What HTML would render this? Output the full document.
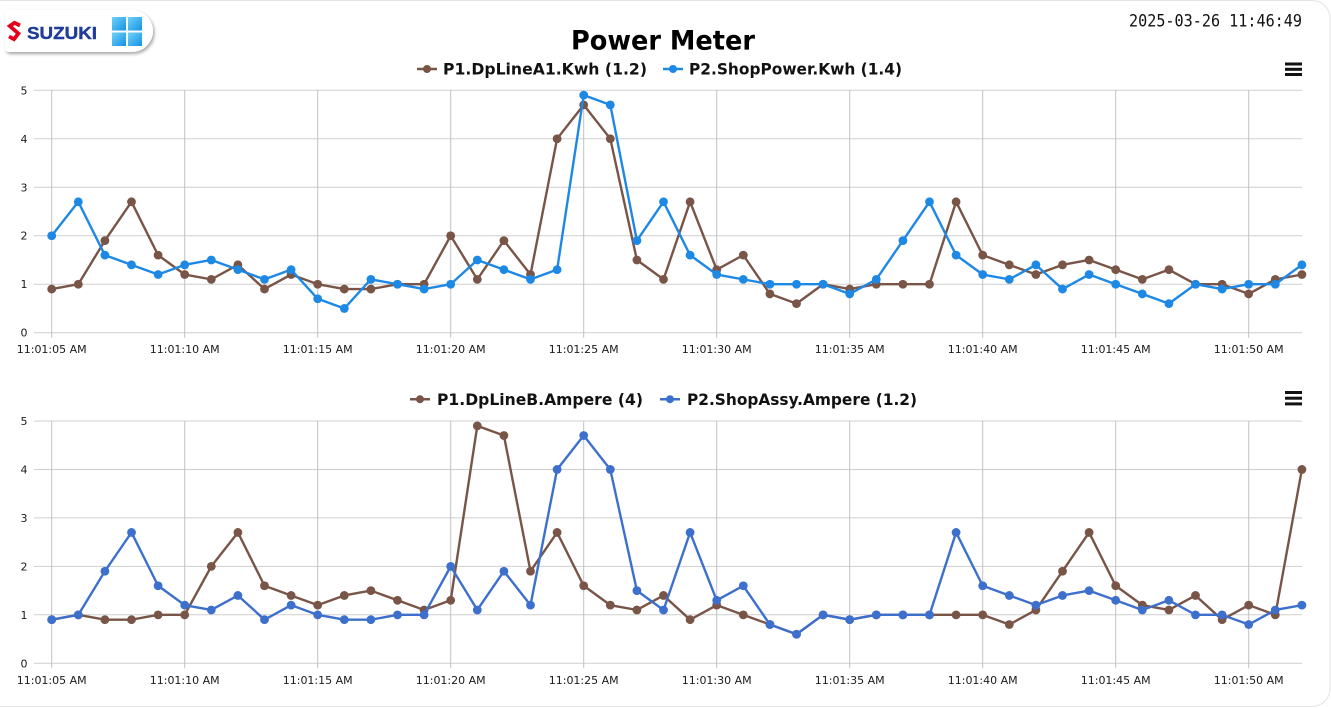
<!DOCTYPE html>
<html>
<head>
<meta charset="utf-8">
<style>
  html,body{margin:0;padding:0;background:#fff;}
  body{width:1331px;height:708px;overflow:hidden;}
  svg{display:block;}
  .yl{font-family:"DejaVu Sans","Liberation Sans",sans-serif;font-size:11px;fill:#1a1a1a;}
  .xl{font-family:"DejaVu Sans","Liberation Sans",sans-serif;font-size:11px;fill:#1a1a1a;}
  .lg{font-family:"DejaVu Sans","Liberation Sans",sans-serif;font-size:15.6px;font-weight:bold;fill:#111;}
</style>
</head>
<body>
<svg id="c" width="1331" height="708" viewBox="0 0 1331 708" xmlns="http://www.w3.org/2000/svg">
  <defs>
    <filter id="sh" x="-10%" y="-20%" width="130%" height="160%">
      <feDropShadow dx="1.5" dy="2" stdDeviation="1.6" flood-color="#000" flood-opacity="0.35"/>
    </filter>
    <linearGradient id="wg" x1="0" y1="0" x2="1" y2="1">
      <stop offset="0" stop-color="#6fd3fa"/>
      <stop offset="1" stop-color="#1591e3"/>
    </linearGradient>
  </defs>

  <!-- card border -->
  <rect x="-20" y="0.5" width="1350" height="706" rx="18" fill="none" stroke="#e4e4e4" stroke-width="1"/>

  <!-- logo pill -->
  <path d="M9,10 H132 A21,21 0 0 1 132,52 H9 Q5,52 5,48 V14 Q5,10 9,10 Z" fill="#fff" filter="url(#sh)"/>
  <polyline points="20,25.5 14.5,22.8 9.8,26 18.4,33.5 14,39.2 9,36.5" fill="none" stroke="#e3001b" stroke-width="3.8" stroke-linejoin="miter"/>
  <text x="27" y="38.8" textLength="70" lengthAdjust="spacingAndGlyphs" style="font-family:'Liberation Sans',sans-serif;font-weight:bold;font-size:17.5px;fill:#1f3c98;stroke:#1f3c98;stroke-width:0.4;">SUZUKI</text>
  <rect x="112" y="17" width="14" height="13.5" fill="url(#wg)"/>
  <rect x="128" y="17" width="14" height="13.5" fill="url(#wg)"/>
  <rect x="112" y="32.5" width="14" height="13.5" fill="url(#wg)"/>
  <rect x="128" y="32.5" width="14" height="13.5" fill="url(#wg)"/>

  <!-- title -->
  <text x="663" y="49.5" text-anchor="middle" textLength="184" lengthAdjust="spacingAndGlyphs" style="font-family:'DejaVu Sans','Liberation Sans',sans-serif;font-weight:bold;font-size:27px;fill:#000;">Power Meter</text>

  <!-- timestamp -->
  <text x="1129" y="26.5" textLength="173" lengthAdjust="spacingAndGlyphs" style="font-family:'DejaVu Sans Mono','Liberation Mono',monospace;font-size:17px;fill:#111;">2025-03-26 11:46:49</text>

  <!-- ===== TOP CHART ===== -->
  <line x1="417" y1="69" x2="437" y2="69" stroke="#795548" stroke-width="2.5"/>
  <circle cx="427" cy="69" r="4" fill="#795548"/>
  <text class="lg" x="443" y="74.7" textLength="204" lengthAdjust="spacingAndGlyphs">P1.DpLineA1.Kwh (1.2)</text>
  <line x1="663" y1="69" x2="683" y2="69" stroke="#1e88e5" stroke-width="2.5"/>
  <circle cx="673" cy="69" r="4" fill="#1e88e5"/>
  <text class="lg" x="689" y="74.7" textLength="213" lengthAdjust="spacingAndGlyphs">P2.ShopPower.Kwh (1.4)</text>
  <rect x="1285" y="62.5" width="17" height="3" fill="#111"/>
  <rect x="1285" y="67.8" width="17" height="3" fill="#111"/>
  <rect x="1285" y="73" width="17" height="3" fill="#111"/>

  <g stroke="#cfcfcf" stroke-width="1">
    <line x1="34" y1="90.3" x2="1302" y2="90.3"/>
    <line x1="34" y1="138.8" x2="1302" y2="138.8"/>
    <line x1="34" y1="187.3" x2="1302" y2="187.3"/>
    <line x1="34" y1="235.7" x2="1302" y2="235.7"/>
    <line x1="34" y1="284.2" x2="1302" y2="284.2"/>
    <line x1="34" y1="332.7" x2="1302" y2="332.7"/>
  </g>
  <g stroke="#c2c2c2" stroke-width="1">
    <line x1="51.7" y1="90.3" x2="51.7" y2="337.7"/>
    <line x1="184.7" y1="90.3" x2="184.7" y2="337.7"/>
    <line x1="317.7" y1="90.3" x2="317.7" y2="337.7"/>
    <line x1="450.7" y1="90.3" x2="450.7" y2="337.7"/>
    <line x1="583.7" y1="90.3" x2="583.7" y2="337.7"/>
    <line x1="716.7" y1="90.3" x2="716.7" y2="337.7"/>
    <line x1="849.7" y1="90.3" x2="849.7" y2="337.7"/>
    <line x1="982.7" y1="90.3" x2="982.7" y2="337.7"/>
    <line x1="1115.7" y1="90.3" x2="1115.7" y2="337.7"/>
    <line x1="1248.7" y1="90.3" x2="1248.7" y2="337.7"/>
  </g>
  <g class="yl" text-anchor="middle">
    <text x="24" y="94.3">5</text>
    <text x="24" y="142.8">4</text>
    <text x="24" y="191.3">3</text>
    <text x="24" y="239.7">2</text>
    <text x="24" y="288.2">1</text>
    <text x="24" y="336.7">0</text>
  </g>
  <g class="xl" text-anchor="middle">
    <text x="51.7" y="353">11:01:05 AM</text>
    <text x="184.7" y="353">11:01:10 AM</text>
    <text x="317.7" y="353">11:01:15 AM</text>
    <text x="450.7" y="353">11:01:20 AM</text>
    <text x="583.7" y="353">11:01:25 AM</text>
    <text x="716.7" y="353">11:01:30 AM</text>
    <text x="849.7" y="353">11:01:35 AM</text>
    <text x="982.7" y="353">11:01:40 AM</text>
    <text x="1115.7" y="353">11:01:45 AM</text>
    <text x="1248.7" y="353">11:01:50 AM</text>
  </g>
  <g id="s1"></g>
  <g id="s2"></g>

  <!-- ===== BOTTOM CHART ===== -->
  <line x1="410" y1="399.2" x2="430" y2="399.2" stroke="#795548" stroke-width="2.5"/>
  <circle cx="420" cy="399.2" r="4" fill="#795548"/>
  <text class="lg" x="437" y="404.8" textLength="206" lengthAdjust="spacingAndGlyphs">P1.DpLineB.Ampere (4)</text>
  <line x1="660" y1="399.2" x2="680" y2="399.2" stroke="#3d70cc" stroke-width="2.5"/>
  <circle cx="670" cy="399.2" r="4" fill="#3d70cc"/>
  <text class="lg" x="687" y="404.8" textLength="230" lengthAdjust="spacingAndGlyphs">P2.ShopAssy.Ampere (1.2)</text>
  <rect x="1285" y="391" width="17" height="3" fill="#111"/>
  <rect x="1285" y="396.7" width="17" height="3" fill="#111"/>
  <rect x="1285" y="402.4" width="17" height="3" fill="#111"/>

  <g stroke="#cfcfcf" stroke-width="1">
    <line x1="34" y1="421" x2="1302" y2="421"/>
    <line x1="34" y1="469.5" x2="1302" y2="469.5"/>
    <line x1="34" y1="517.9" x2="1302" y2="517.9"/>
    <line x1="34" y1="566.4" x2="1302" y2="566.4"/>
    <line x1="34" y1="614.8" x2="1302" y2="614.8"/>
    <line x1="34" y1="663.3" x2="1302" y2="663.3"/>
  </g>
  <g stroke="#c2c2c2" stroke-width="1">
    <line x1="51.7" y1="421" x2="51.7" y2="668.3"/>
    <line x1="184.7" y1="421" x2="184.7" y2="668.3"/>
    <line x1="317.7" y1="421" x2="317.7" y2="668.3"/>
    <line x1="450.7" y1="421" x2="450.7" y2="668.3"/>
    <line x1="583.7" y1="421" x2="583.7" y2="668.3"/>
    <line x1="716.7" y1="421" x2="716.7" y2="668.3"/>
    <line x1="849.7" y1="421" x2="849.7" y2="668.3"/>
    <line x1="982.7" y1="421" x2="982.7" y2="668.3"/>
    <line x1="1115.7" y1="421" x2="1115.7" y2="668.3"/>
    <line x1="1248.7" y1="421" x2="1248.7" y2="668.3"/>
  </g>
  <g class="yl" text-anchor="middle">
    <text x="24" y="425">5</text>
    <text x="24" y="473.5">4</text>
    <text x="24" y="521.9">3</text>
    <text x="24" y="570.4">2</text>
    <text x="24" y="618.8">1</text>
    <text x="24" y="667.3">0</text>
  </g>
  <g class="xl" text-anchor="middle">
    <text x="51.7" y="684">11:01:05 AM</text>
    <text x="184.7" y="684">11:01:10 AM</text>
    <text x="317.7" y="684">11:01:15 AM</text>
    <text x="450.7" y="684">11:01:20 AM</text>
    <text x="583.7" y="684">11:01:25 AM</text>
    <text x="716.7" y="684">11:01:30 AM</text>
    <text x="849.7" y="684">11:01:35 AM</text>
    <text x="982.7" y="684">11:01:40 AM</text>
    <text x="1115.7" y="684">11:01:45 AM</text>
    <text x="1248.7" y="684">11:01:50 AM</text>
  </g>
  <g id="s3"></g>
  <g id="s4"></g>
</svg>
<script>
(function(){
  var NS="http://www.w3.org/2000/svg";
  var A=[0.9,1.0,1.9,2.7,1.6,1.2,1.1,1.4,0.9,1.2, 1.0,0.9,0.9,1.0,1.0,2.0,1.1,1.9,1.2,4.0, 4.7,4.0,1.5,1.1,2.7,1.3,1.6,0.8,0.6,1.0, 0.9,1.0,1.0,1.0,2.7,1.6,1.4,1.2,1.4,1.5, 1.3,1.1,1.3,1.0,1.0,0.8,1.1,1.2];
  var B=[2.0,2.7,1.6,1.4,1.2,1.4,1.5,1.3,1.1,1.3, 0.7,0.5,1.1,1.0,0.9,1.0,1.5,1.3,1.1,1.3, 4.9,4.7,1.9,2.7,1.6,1.2,1.1,1.0,1.0,1.0, 0.8,1.1,1.9,2.7,1.6,1.2,1.1,1.4,0.9,1.2, 1.0,0.8,0.6,1.0,0.9,1.0,1.0,1.4];
  var C=[0.9,1.0,0.9,0.9,1.0,1.0,2.0,2.7,1.6,1.4, 1.2,1.4,1.5,1.3,1.1,1.3,4.9,4.7,1.9,2.7, 1.6,1.2,1.1,1.4,0.9,1.2,1.0,0.8,0.6,1.0, 0.9,1.0,1.0,1.0,1.0,1.0,0.8,1.1,1.9,2.7, 1.6,1.2,1.1,1.4,0.9,1.2,1.0,4.0];
  var D=A.slice();
  function draw(id,data,y0,unit,color){
    var g=document.getElementById(id);
    var pts=[];
    for(var i=0;i<data.length;i++){
      var x=51.7+26.6*i, y=y0-data[i]*unit;
      pts.push(x.toFixed(2)+","+y.toFixed(2));
    }
    var pl=document.createElementNS(NS,"polyline");
    pl.setAttribute("points",pts.join(" "));
    pl.setAttribute("fill","none");
    pl.setAttribute("stroke",color);
    pl.setAttribute("stroke-width","2.4");
    pl.setAttribute("stroke-linejoin","round");
    g.appendChild(pl);
    for(var j=0;j<data.length;j++){
      var c=document.createElementNS(NS,"circle");
      c.setAttribute("cx",(51.7+26.6*j).toFixed(2));
      c.setAttribute("cy",(y0-data[j]*unit).toFixed(2));
      c.setAttribute("r","4.4");
      c.setAttribute("fill",color);
      g.appendChild(c);
    }
  }
  draw("s1",A,332.7,48.48,"#795548");
  draw("s2",B,332.7,48.48,"#1e88e5");
  draw("s3",C,663.3,48.46,"#795548");
  draw("s4",D,663.3,48.46,"#3d70cc");
})();
</script>
</body>
</html>
